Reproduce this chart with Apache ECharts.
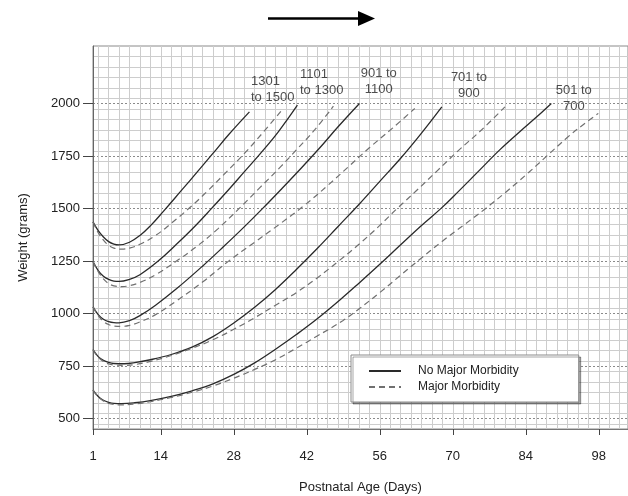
<!DOCTYPE html>
<html>
<head>
<meta charset="utf-8">
<script src="https://cdn.jsdelivr.net/npm/echarts@6/dist/echarts.min.js"></script>
<style>
  html, body { margin: 0; padding: 0; background: #fff; }
  #main { width: 628px; height: 496px; }
</style>
</head>
<body>
<div id="main"></div>
<script>
// tick labels
var xTicks = [1, 14, 28, 42, 56, 70, 84, 98];
var yTicks = [500, 750, 1000, 1250, 1500, 1750, 2000];

// birth weight groups, [day, grams]
var groupNames = ['1301\nto 1500', '1101\nto 1300', '901 to\n1100', '701 to\n900', '501 to\n700'];
var groupLabelPos = [[31.3, 2069], [40.7, 2100], [55.8, 2105], [73.1, 2088], [93.2, 2024]];

var g1301Solid = [[1,1437],[2,1395],[3,1365],[4,1343],[5,1331],[6,1327],[8,1340],[10,1372],[12,1418],[14.5,1487],[18,1588],[21,1675],[24,1763],[27,1852],[31,1961]];
var g1301Dashed = [[1,1437],[2,1385],[3,1350],[4,1325],[5,1312],[6.5,1307],[8,1312],[10,1330],[13,1372],[16,1430],[19.8,1510],[23,1585],[26,1660],[30,1762],[33.5,1860],[37.2,1969]];

var g1101Solid = [[1,1248],[2,1205],[3,1178],[4,1163],[5,1155],[6,1153],[8,1163],[10,1185],[13.5,1250],[17,1330],[20.5,1415],[23.7,1500],[27,1590],[30,1675],[33,1760],[36.5,1865],[40.2,1993]];
var g1101Dashed = [[1,1248],[2,1200],[3,1165],[4,1143],[5,1132],[6.5,1128],[8,1133],[10,1148],[13,1185],[17,1250],[21,1322],[25,1405],[29,1500],[33,1600],[37,1700],[40,1780],[43.5,1875],[47.1,1988]];

var g901Solid = [[1,1032],[2,995],[3,973],[4,962],[5,957],[6,956],[8,966],[10,990],[13,1040],[17,1118],[22,1226],[26,1318],[30,1413],[33.5,1500],[37,1590],[41,1695],[44.5,1790],[48,1890],[52.1,2001]];
var g901Dashed = [[1,1032],[2,990],[3,963],[4,948],[5,941],[6.5,939],[8,944],[10,960],[13,995],[17,1060],[22,1150],[27,1250],[32,1340],[37,1430],[41.5,1515],[46,1610],[50,1700],[54,1790],[58.5,1885],[62.7,1977]];

var g701Solid = [[1,828],[2,795],[3,777],[4,767],[5,762],[7,761],[9,766],[12,780],[16,805],[20,840],[24,890],[28,955],[32,1030],[36,1115],[40,1210],[44,1310],[48,1415],[52,1520],[56,1630],[60,1740],[64,1860],[67.9,1985]];
var g701Dashed = [[1,828],[2,792],[3,772],[4,760],[5,755],[7,753],[9,757],[12,772],[16,800],[20,835],[24,875],[28,925],[32,980],[36,1040],[40,1100],[44,1170],[48.4,1256],[52,1330],[56,1420],[59.3,1500],[63,1585],[67,1680],[71,1775],[75.5,1875],[80,1985]];

var g501Solid = [[1,635],[2,605],[3,587],[4,577],[5,572],[6.5,571],[9,575],[12,585],[16,605],[20,632],[24,665],[28,710],[32,765],[36,830],[40,900],[44,975],[48.4,1066],[52,1145],[56,1235],[60,1328],[64,1420],[67.7,1500],[71,1580],[75,1680],[79,1780],[83,1870],[86,1935],[88.9,2001]];
var g501Dashed = [[1,635],[2,603],[3,584],[4,572],[5,567],[6.5,565],[9,569],[12,580],[16,600],[20,625],[24,655],[28,692],[32,734],[36,780],[40,835],[44,893],[48.9,966],[52,1022],[56,1100],[60,1183],[64,1265],[68,1345],[72,1420],[76,1495],[80,1575],[84,1660],[88,1750],[92,1840],[95,1900],[97.9,1954]];

var solidCurves = [g1301Solid, g1101Solid, g901Solid, g701Solid, g501Solid];
var dashedCurves = [g1301Dashed, g1101Dashed, g901Dashed, g701Dashed, g501Dashed];

var font = 'Liberation Sans, Arial, sans-serif';
var chart = echarts.init(document.getElementById('main'));

var series = [];
solidCurves.forEach(function (d) {
  series.push({
    name: 'No Major Morbidity',
    type: 'line',
    smooth: 0.4,
    symbol: 'none',
    data: d,
    itemStyle: { color: '#2a2a2a' },
    lineStyle: { color: '#2a2a2a', width: 1.3 }
  });
});
dashedCurves.forEach(function (d) {
  series.push({
    name: 'Major Morbidity',
    type: 'line',
    smooth: 0.4,
    symbol: 'none',
    data: d,
    itemStyle: { color: '#707070' },
    lineStyle: { color: '#707070', width: 1.2, type: [6, 4] }
  });
});
series.push({
  name: 'groups',
  type: 'scatter',
  symbolSize: 0,
  silent: true,
  data: groupLabelPos.map(function (p, i) {
    return {
      value: p,
      label: {
        show: true,
        position: 'inside',
        align: i < 2 ? 'left' : 'center',
        formatter: groupNames[i]
      }
    };
  }),
  label: { fontSize: 13, lineHeight: 16, color: '#222', fontFamily: font }
});

var option = {
  animation: false,
  grid: {
    left: 93, right: 0, top: 46, bottom: 67,
    outerBoundsMode: 'none',
    containLabel: false,
    show: true, borderColor: '#8a8a8a', borderWidth: 1
  },
  legend: {
    data: ['No Major Morbidity', 'Major Morbidity'],
    orient: 'vertical',
    left: 351,
    top: 355,
    backgroundColor: '#fff',
    borderColor: '#8a8a8a',
    borderWidth: 1,
    shadowColor: 'rgba(0,0,0,0.35)',
    shadowOffsetX: 2,
    shadowOffsetY: 2,
    padding: [10, 60, 9, 17],
    itemWidth: 32,
    itemHeight: 12,
    itemGap: 4,
    itemStyle: { opacity: 0 },
    textStyle: { fontSize: 12, color: '#222', fontFamily: font, padding: [0, 0, 0, 12] }
  },
  xAxis: {
    type: 'value',
    min: 1,
    max: 103.6,
    interval: 2,
    name: 'Postnatal Age (Days)',
    nameLocation: 'middle',
    nameGap: 52,
    nameTextStyle: { fontSize: 13, color: '#222', fontFamily: font },
    axisLine: { show: true, lineStyle: { color: '#777' } },
    axisTick: { show: true, customValues: xTicks, length: 6, lineStyle: { color: '#444' } },
    axisLabel: { customValues: xTicks, margin: 21, fontSize: 13, color: '#222', fontFamily: font },
    splitLine: { show: true, lineStyle: { color: '#8a8a8a', type: [2, 2] } },
    minorTick: { show: false, splitNumber: 2 },
    minorSplitLine: { show: true, lineStyle: { color: '#cdcdcd' } }
  },
  yAxis: {
    type: 'value',
    min: 450,
    max: 2275,
    interval: 50,
    name: 'Weight (grams)',
    nameLocation: 'middle',
    nameGap: 63,
    nameTextStyle: { fontSize: 13, color: '#222', fontFamily: font },
    axisLine: { show: true, lineStyle: { color: '#666' } },
    axisTick: { show: true, customValues: yTicks, length: 10, lineStyle: { color: '#444' } },
    axisLabel: {
      customValues: yTicks, margin: 13, fontSize: 13, color: '#222', fontFamily: font,
      formatter: function (v) { return String(v); }
    },
    splitLine: { show: true, lineStyle: { color: '#8a8a8a', type: [2, 2] } },
    minorTick: { show: false, splitNumber: 2 },
    minorSplitLine: { show: true, lineStyle: { color: '#cdcdcd' } }
  },
  graphic: [
    { type: 'line', shape: { x1: 268, y1: 18.5, x2: 360, y2: 18.5 }, style: { stroke: '#000', lineWidth: 2.5 } },
    { type: 'polygon', shape: { points: [[358, 11], [375, 18.5], [358, 26]] }, style: { fill: '#000' } }
  ],
  series: series
};
chart.setOption(option);
</script>
</body>
</html>
